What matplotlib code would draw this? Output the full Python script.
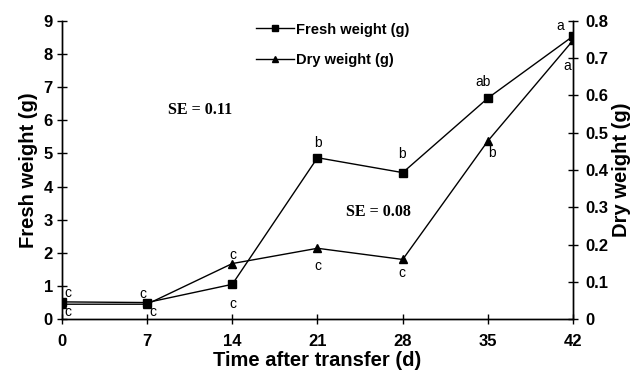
import matplotlib
matplotlib.use("Agg")
import matplotlib.pyplot as plt

plt.rcParams['font.family'] = ['Liberation Sans', 'DejaVu Sans']
plt.rcParams['font.weight'] = 'bold'

days = [0, 7, 14, 21, 28, 35, 42]
fresh = [0.52, 0.50, 1.05, 4.87, 4.42, 6.67, 8.54]
dry = [0.04, 0.04, 0.149, 0.19, 0.16, 0.478, 0.748]
fresh_letters = ['c', 'c', 'c', 'b', 'b', 'ab', 'a']
dry_letters = ['c', 'c', 'c', 'c', 'c', 'b', 'a']
dry_ticks = [0, 0.1, 0.2, 0.3, 0.4, 0.5, 0.6, 0.7, 0.8]
dry_tick_labels = ['0', '0.1', '0.2', '0.3', '0.4', '0.5', '0.6', '0.7', '0.8']

# label offsets in points
fresh_off = [(4.3, 6.5), (-2.9, 6.5), (0.7, -14.4), (0, 10.8), (-0.7, 13.7), (-3.6, 11.5), (-9.4, 7.2)]
dry_off = [(4.3, -5.8), (4.3, -5.8), (0.7, 6.5), (0, -13), (-0.7, -10), (2.9, -8.6), (-4.3, -18.7)]

fig = plt.figure(figsize=(6.44, 3.79), dpi=100)
ax = fig.add_axes([0.096, 0.158, 0.794, 0.787])
ax2 = ax.twinx()

l1, = ax.plot(days, fresh, color='black', lw=1, marker='s', ms=6, label='Fresh weight (g)')
l2, = ax2.plot(days, dry, color='black', lw=1, marker='^', ms=6, label='Dry weight (g)')

for x, y, t, o in zip(days, fresh, fresh_letters, fresh_off):
    ax.annotate(t, (x, y), xytext=o, textcoords='offset points', ha='center', va='center',
                fontsize=10, fontweight='normal')
for x, y, t, o in zip(days, dry, dry_letters, dry_off):
    ax2.annotate(t, (x, y), xytext=o, textcoords='offset points', ha='center', va='center',
                 fontsize=10, fontweight='normal')

ax.set_xlim(0, 42)
ax.set_ylim(0, 9)
ax2.set_ylim(0, 0.8)
ax.set_xticks(days)
ax.set_yticks(range(10))
ax2.set_yticks(dry_ticks)
ax2.set_yticklabels(dry_tick_labels)

for a in (ax, ax2):
    a.spines['top'].set_visible(False)
    for s in a.spines.values():
        s.set_linewidth(1)
    a.tick_params(direction='inout', length=7, width=1, labelsize=12)
ax.tick_params(axis='x', pad=7)
ax.tick_params(axis='y', pad=3)
ax2.tick_params(axis='y', pad=5)

ax.set_xlabel('Time after transfer (d)', fontsize=14.5, fontweight='bold', labelpad=2)
ax.set_ylabel('Fresh weight (g)', fontsize=14.5, fontweight='bold', labelpad=4)
ax2.set_ylabel('Dry weight (g)', fontsize=14.5, fontweight='bold', labelpad=3)

ax.text(0.27, 0.70, 'SE = 0.11', transform=ax.transAxes, family='Liberation Serif',
        fontweight='bold', fontsize=11.5, ha='center', va='center')
ax.text(0.62, 0.36, 'SE = 0.08', transform=ax.transAxes, family='Liberation Serif',
        fontweight='bold', fontsize=11.5, ha='center', va='center')

fig.legend(handles=[l1, l2], loc='upper left', bbox_to_anchor=(0.377, 0.975), frameon=False,
           prop={'weight': 'bold', 'size': 10.5}, handlelength=2.6, handletextpad=0.15,
           labelspacing=1.15, markerscale=0.8)

fig.savefig('out.png', dpi=100)
